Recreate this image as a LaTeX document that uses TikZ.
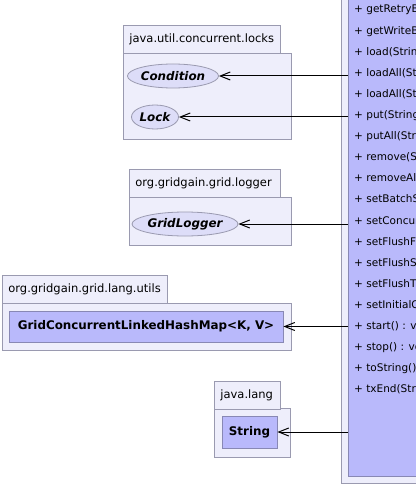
\documentclass[tikz,border=0pt]{standalone}
\usepackage{fontspec}
\setmainfont{DejaVu Sans}
\usetikzlibrary{arrows.meta,positioning,shapes.geometric}
\definecolor{pkgfill}{RGB}{238,238,251}
\definecolor{pkgline}{RGB}{154,154,176}
\definecolor{clsfill}{RGB}{185,185,251}
\definecolor{clsline}{RGB}{136,136,180}
\definecolor{ifcfill}{RGB}{221,221,248}
\newcommand\pkgfont{\fontsize{11.5}{14}\selectfont}
\newcommand\namefont{\fontsize{11.9}{14}\selectfont\bfseries}
\newcommand\memberfont{\fontsize{10.5}{13}\selectfont}
\tikzset{
  pkgtab/.style  = {draw=pkgline, fill=pkgfill, line width=0.8pt, anchor=north west,
                    inner xsep=6pt, inner ysep=0pt, minimum height=28pt,
                    text width=#1, align=left, font=\pkgfont},
  pkgbody/.style = {draw=pkgline, fill=pkgfill, line width=0.8pt, anchor=north west,
                    inner sep=0pt},
  iface/.style   = {ellipse, draw=pkgline, fill=ifcfill, line width=0.8pt,
                    inner sep=0pt, minimum height=24pt, font=\namefont\itshape},
  cls/.style     = {draw=clsline, fill=clsfill, line width=0.8pt, inner sep=0pt,
                    font=\namefont},
  member/.style  = {anchor=base west, inner sep=0pt, font=\memberfont},
  dep/.style     = {{Straight Barb[length=10pt,width=8pt]}-, line width=1pt},
}

\begin{document}
\begin{tikzpicture}[x=1pt, y=-1pt]
  \useasboundingbox (0,0) rectangle (415,486);

  % ---- the store class, cut by the right and top edges --------------------
  \node[pkgbody, minimum width=110pt, minimum height=503pt] (storepkg) at (341,-20) {};
  \node[cls, anchor=north west, minimum width=100pt, minimum height=496pt] (store) at (348,-20) {};
  \foreach \m [count=\i from 0] in {%
      {+ getRetryBackoffTime() : long},
      {+ getWriteBehindFlushSize() : int},
      {+ load(String, GridCacheTx, K)},
      {+ loadAll(String, GridCacheTx)},
      {+ loadAll(String, GridCacheTx)},
      {+ put(String, GridCacheTx, K, V)},
      {+ putAll(String, GridCacheTx)},
      {+ remove(String, GridCacheTx, K)},
      {+ removeAll(String, GridCacheTx)},
      {+ setBatchSize(int) : void},
      {+ setConcurrencyLevel(int) : void},
      {+ setFlushFrequency(long) : void},
      {+ setFlushSize(int) : void},
      {+ setFlushThreadCount(int) : void},
      {+ setInitialCapacity(int) : void},
      {+ start() : void},
      {+ stop() : void},
      {+ toString() : String},
      {+ txEnd(String, GridCacheTx)}} {
    \node[member] (m\i) at (354, 13+21.1*\i) {\m};
  }

  % ---- java.util.concurrent.locks -------------------------------------------
  \node[pkgbody, minimum width=168pt, minimum height=86pt] (locksbody) at (123,53) {};
  \node[pkgtab=145pt] (lockstab) at (123,25) {java.util.concurrent.locks};
  \node[iface, minimum width=82pt] (cond) at (173,76) {Condition};
  \node[iface, minimum width=47pt] (lock) at (155,117) {Lock};

  % ---- org.gridgain.grid.logger ---------------------------------------------
  \node[pkgbody, minimum width=162pt, minimum height=48pt] (loggerbody) at (129,197) {};
  \node[pkgtab=139pt] (loggertab) at (129,169) {org.gridgain.grid.logger};
  \node[iface, minimum width=96pt] (logger) at (185,224) {GridLogger};

  % ---- org.gridgain.grid.lang.utils -----------------------------------------
  \node[pkgbody, minimum width=289pt, minimum height=47pt] (utilsbody) at (2,303) {};
  \node[pkgtab=153pt] (utilstab) at (2,275) {org.gridgain.grid.lang.utils};
  \node[cls, minimum width=274pt, minimum height=31pt] (map) at (146,326.5)
    {GridConcurrentLinkedHashMap<K, V>};

  % ---- java.lang ------------------------------------------------------------
  \node[pkgbody, minimum width=76pt, minimum height=49pt] (langbody) at (214,408) {};
  \node[pkgtab=54pt] (langtab) at (214,381) {java.lang};
  \node[cls, minimum width=55pt, minimum height=32pt] (string) at (249.5,432) {String};

  % ---- dependencies ---------------------------------------------------------
  \foreach \t in {cond,lock,logger,map,string}
    \draw[dep] (\t.east) -- (store.west |- \t.east);
\end{tikzpicture}
\end{document}
